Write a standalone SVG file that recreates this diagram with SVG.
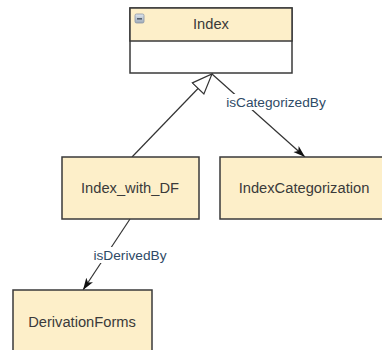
<svg xmlns="http://www.w3.org/2000/svg" width="382" height="350" viewBox="0 0 382 350">
<style>
.box{fill:#fdefc9;stroke:#3a3a3a;stroke-width:1.5}
.body{fill:#ffffff;stroke:#3a3a3a;stroke-width:1.5}
.nt{font-family:"Liberation Sans",Arial,sans-serif;font-size:14.7px;fill:#3a3a3a;text-anchor:middle}
.et{font-family:"Liberation Sans",Arial,sans-serif;font-size:13.7px;fill:#2e4a66;text-anchor:middle}
.ln{stroke:#333;stroke-width:1.2;fill:none}
.lb{fill:#ffffff}
</style>
<defs>
<marker id="arr" viewBox="0 0 12 10" refX="12" refY="5" markerWidth="12" markerHeight="10" markerUnits="userSpaceOnUse" orient="auto">
<path d="M0,1 L12,5 L0,9 L3,5 Z" fill="#111"/>
</marker>
<marker id="gen" viewBox="0 0 22 18" refX="21" refY="9" markerWidth="22" markerHeight="18" markerUnits="userSpaceOnUse" orient="auto">
<path d="M1,1 L21,9 L1,17 Z" fill="#ffffff" stroke="#333" stroke-width="1.2"/>
</marker>
<linearGradient id="ic" x1="0" y1="0" x2="0" y2="1">
<stop offset="0" stop-color="#dfe6ee"/><stop offset="1" stop-color="#9eaab8"/>
</linearGradient>
</defs>
<rect width="382" height="350" fill="#ffffff"/>
<g id="connectors">
<line class="ln" x1="132" y1="157" x2="212" y2="74" marker-end="url(#gen)"/>
<line class="ln" x1="212" y1="74" x2="305" y2="157" marker-end="url(#arr)"/>
<rect class="lb" x="224" y="94" width="104" height="16"/>
<text class="et" x="276" y="107">isCategorizedBy</text>
<line class="ln" x1="130" y1="219" x2="83" y2="290" marker-end="url(#arr)"/>
<rect class="lb" x="91" y="247" width="78" height="16"/>
<text class="et" x="130" y="260">isDerivedBy</text>
</g>
<g id="Index">
<rect class="body" x="130" y="8" width="162" height="65"/>
<rect class="box" x="130" y="8" width="162" height="33"/>
<rect x="135" y="14" width="9" height="9" rx="1.5" fill="url(#ic)" stroke="#8a96a6" stroke-width="0.8"/>
<rect x="137" y="18" width="5" height="1.6" fill="#555f6c"/>
<text class="nt" x="211" y="29">Index</text>
</g>
<g id="Index_with_DF">
<rect class="box" x="62" y="157" width="137" height="62"/>
<text class="nt" x="130" y="193">Index_with_DF</text>
</g>
<g id="IndexCategorization">
<rect class="box" x="220" y="157" width="168" height="62"/>
<text class="nt" x="304" y="193">IndexCategorization</text>
</g>
<g id="DerivationForms">
<rect class="box" x="13" y="290" width="139" height="70"/>
<text class="nt" x="82" y="327">DerivationForms</text>
</g>
</svg>
